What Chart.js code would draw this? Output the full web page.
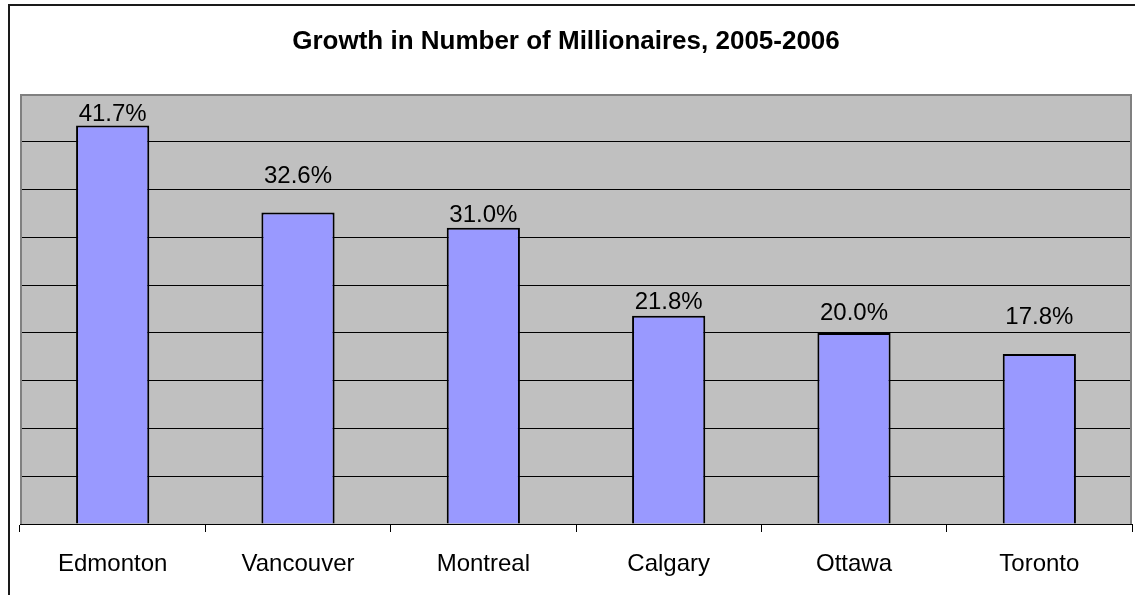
<!DOCTYPE html>
<html>
<head>
<meta charset="utf-8">
<script src="https://cdn.jsdelivr.net/npm/chart.js@4/dist/chart.umd.min.js"></script>
<style>
html,body{margin:0;padding:0;background:#fff;}
canvas{display:block;}
</style>
</head>
<body>
<canvas id="c" width="1135" height="595"></canvas>
<script>
const categories = ["Edmonton", "Vancouver", "Montreal", "Calgary", "Ottawa", "Toronto"];
const growthValues = [41.7, 32.6, 31.0, 21.8, 20.0, 17.8];
const valueLabels = ["41.7%", "32.6%", "31.0%", "21.8%", "20.0%", "17.8%"];
const chartTitle = "Growth in Number of Millionaires, 2005-2006";

const FONT = "'Liberation Sans', Arial, Helvetica, sans-serif";

const framePlugin = {
  id: 'frame',
  beforeDraw(chart, args, opts) {
    const ctx = chart.ctx, a = chart.chartArea;
    ctx.save();
    ctx.fillStyle = '#ffffff';
    ctx.fillRect(0, 0, chart.width, chart.height);
    // outer chart border
    ctx.strokeStyle = '#1a1a1a';
    ctx.lineWidth = 2;
    ctx.beginPath();
    ctx.moveTo(9, chart.height + 2);
    ctx.lineTo(9, 5);
    ctx.lineTo(chart.width + 2, 5);
    ctx.stroke();
    // title
    ctx.fillStyle = '#000';
    ctx.font = opts.titleFont;
    ctx.textAlign = 'center';
    ctx.textBaseline = 'alphabetic';
    ctx.fillText(chartTitle, opts.titleX, opts.titleY);
    // plot area fill
    ctx.fillStyle = '#c0c0c0';
    ctx.fillRect(a.left, a.top, a.right - a.left, a.bottom - a.top);
    ctx.restore();
  },
  beforeDatasetsDraw(chart) {
    const ctx = chart.ctx, a = chart.chartArea;
    ctx.save();
    ctx.strokeStyle = '#808080';
    ctx.lineWidth = 2;
    ctx.beginPath();
    ctx.moveTo(a.left + 1, a.bottom);
    ctx.lineTo(a.left + 1, a.top + 1);
    ctx.lineTo(a.right - 1, a.top + 1);
    ctx.lineTo(a.right - 1, a.bottom);
    ctx.stroke();
    ctx.restore();
  }
};

const valueLabelPlugin = {
  id: 'valueLabels',
  afterDatasetsDraw(chart, args, opts) {
    const ctx = chart.ctx;
    const meta = chart.getDatasetMeta(0);
    ctx.save();
    ctx.font = opts.font;
    ctx.fillStyle = '#000';
    ctx.textAlign = 'center';
    ctx.textBaseline = 'alphabetic';
    meta.data.forEach((bar, i) => {
      ctx.fillText(valueLabels[i], bar.x, bar.y - opts.gaps[i]);
    });
    ctx.restore();
  }
};

new Chart(document.getElementById('c'), {
  type: 'bar',
  data: {
    labels: categories,
    datasets: [{
      data: growthValues,
      backgroundColor: '#9999ff',
      borderColor: '#000000',
      borderWidth: 2,
      barPercentage: 0.395,
      categoryPercentage: 1.0
    }]
  },
  options: {
    responsive: false,
    animation: false,
    devicePixelRatio: 1,
    layout: { padding: { left: 20, right: 3, top: 94, bottom: 0 } },
    plugins: {
      legend: { display: false },
      tooltip: { enabled: false },
      title: { display: false },
      frame: {
        titleFont: "bold 26px " + FONT,
        titleX: 566,
        titleY: 49
      },
      valueLabels: {
        font: "24px " + FONT,
        gaps: [5, 29, 6, 7, 13, 30]
      }
    },
    scales: {
      x: {
        grid: {
          display: true,
          offset: true,
          drawOnChartArea: false,
          drawTicks: true,
          tickLength: 8,
          color: '#000'
        },
        border: { display: true, color: '#000', width: 1 },
        ticks: {
          color: '#000',
          font: { family: FONT, size: 24 },
          padding: 18,
          maxRotation: 0,
          autoSkip: false
        },
        afterFit(scale) { scale.height = 71; }
      },
      y: {
        min: 0,
        max: 45,
        ticks: { display: false, stepSize: 5 },
        grid: { color: '#000', lineWidth: 1, drawTicks: false },
        border: { display: false },
        afterFit(scale) { scale.width = 0; }
      }
    }
  },
  plugins: [framePlugin, valueLabelPlugin]
});
</script>
</body>
</html>
